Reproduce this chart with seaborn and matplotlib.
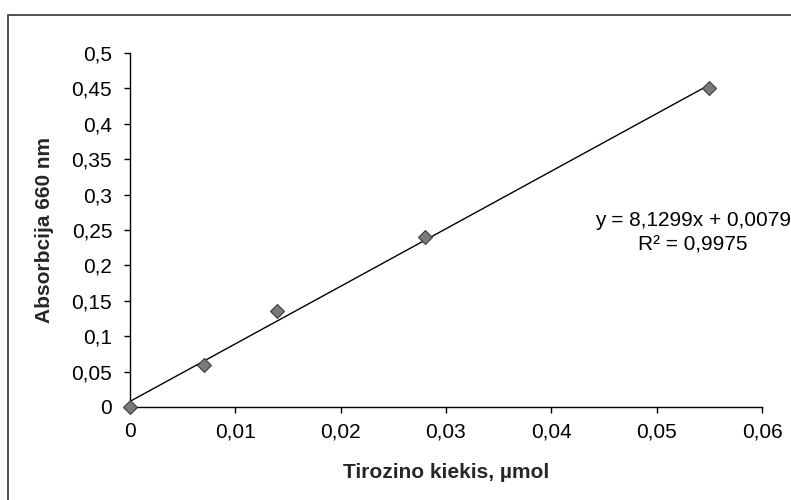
import matplotlib
matplotlib.use("Agg")
import matplotlib.pyplot as plt
import seaborn as sns
import pandas as pd
import numpy as np
from matplotlib.ticker import FuncFormatter, MultipleLocator
from matplotlib.patches import Rectangle

# Data
tyrosine = [0.0, 0.007, 0.014, 0.028, 0.055]
absorbance = [0.0, 0.06, 0.135, 0.24, 0.45]
slope = 8.1299
intercept = 0.0079
equation_text = "y = 8,1299x + 0,0079\nR² = 0,9975"
x_label = "Tirozino kiekis, µmol"
y_label = "Absorbcija 660 nm"

sns.set_theme(style="ticks")
plt.rcParams['font.family'] = ['Liberation Sans', 'DejaVu Sans']
plt.rcParams['font.size'] = 15

df = pd.DataFrame({"x": tyrosine, "y": absorbance})
trend = pd.DataFrame({"x": [min(tyrosine), max(tyrosine)]})
trend["y"] = slope * trend["x"] + intercept

fig = plt.figure(figsize=(7.91, 5.0), dpi=100)
ax = fig.add_axes([130/791, 1-407/500, (762-130)/791, (407-53)/500])

sns.lineplot(data=trend, x="x", y="y", ax=ax, color="black", linewidth=1.0, zorder=2)
sns.scatterplot(data=df, x="x", y="y", ax=ax, marker="D", s=50,
                color="#7a7a7a", edgecolor="#3c3c3c", linewidth=0.8, zorder=3, clip_on=False)

ax.set_xlim(0, 0.06)
ax.set_ylim(0, 0.5)
ax.xaxis.set_major_locator(MultipleLocator(0.01))
ax.yaxis.set_major_locator(MultipleLocator(0.05))
fmt = FuncFormatter(lambda v, p: ("%g" % round(v, 4)).replace(".", ","))
ax.xaxis.set_major_formatter(fmt)
ax.yaxis.set_major_formatter(fmt)

for s in ["top", "right"]:
    ax.spines[s].set_visible(False)
for s in ["left", "bottom"]:
    ax.spines[s].set_color("black")
    ax.spines[s].set_linewidth(1.0)
ax.tick_params(axis="both", direction="out", length=4.3, width=1, color="black",
               labelsize=15, labelcolor="black")
ax.tick_params(axis="y", pad=8.5)
ax.tick_params(axis="x", pad=6.5)

ax.set_xlabel(x_label, fontsize=15, fontweight="bold")
ax.set_ylabel(y_label, fontsize=15, fontweight="bold")
ax.xaxis.label.set_va("center")
ax.yaxis.label.set_va("center")
ax.yaxis.label.set_ha("center")
ax.xaxis.set_label_coords(0.5, (407-473)/354)
ax.yaxis.set_label_coords((45-130)/632, 0.5)

fig.text(693/791, 1-232.5/500, equation_text, ha="center", va="center",
         multialignment="center", fontsize=15, color="black", linespacing=1.35)

# Outer chart-area border (top and left visible)
fig.patches.append(Rectangle((8/791, -0.5), 2.0, 0.5 + (1-15/500), transform=fig.transFigure,
                             fill=False, edgecolor="#333333", linewidth=1.2))

fig.savefig("out.png", dpi=100)
